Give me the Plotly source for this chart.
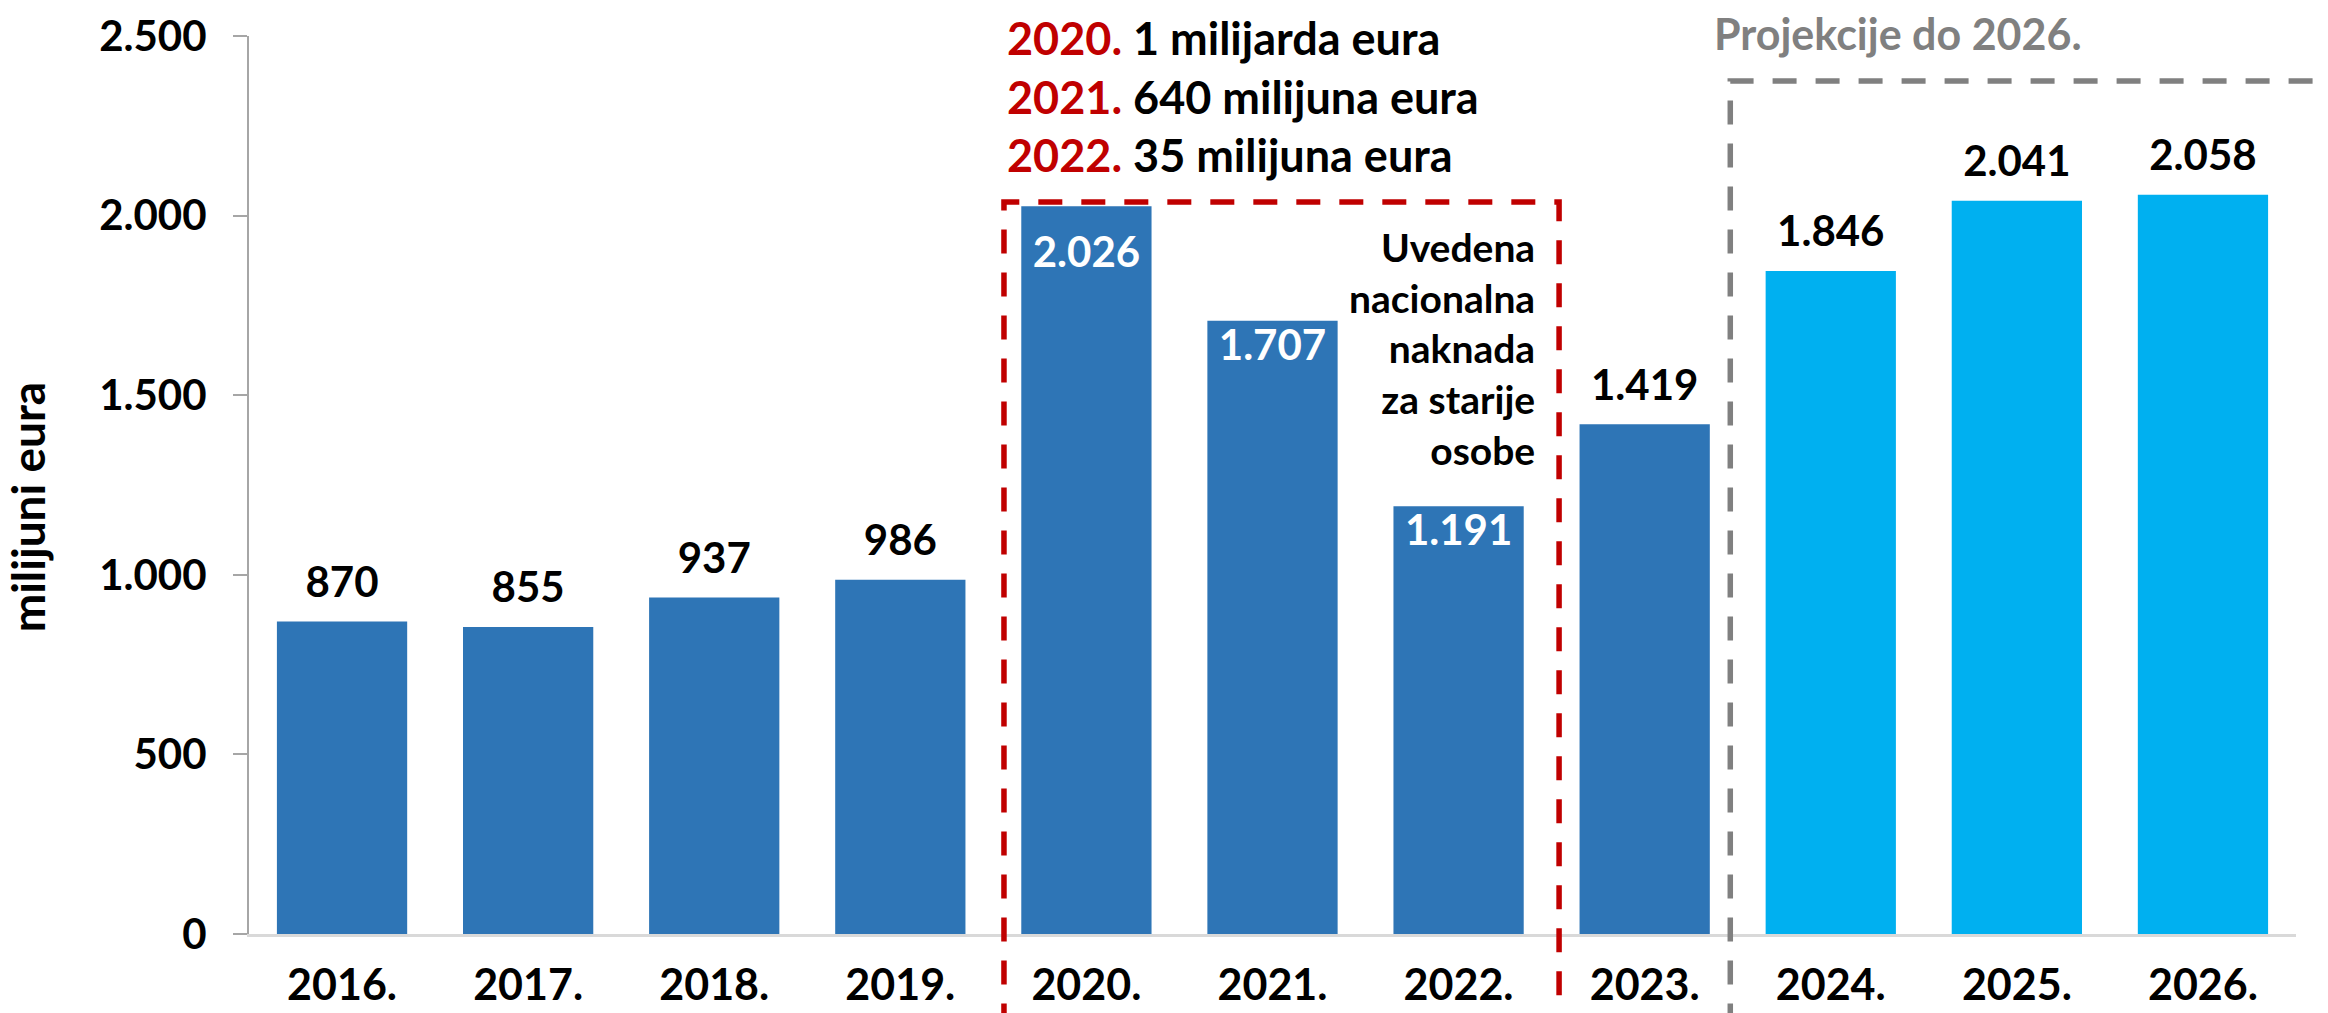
import plotly.graph_objects as go

# ---- data ----
years = ["2016.", "2017.", "2018.", "2019.", "2020.", "2021.", "2022.",
         "2023.", "2024.", "2025.", "2026."]
values = [870, 855, 937, 986, 2026, 1707, 1191, 1419, 1846, 2041, 2058]
projection = [False] * 8 + [True] * 3
label_inside = [False, False, False, False, True, True, True,
                False, False, False, False]
y_ticks = [0, 500, 1000, 1500, 2000, 2500]

note_years = ["2020.", "2021.", "2022."]
note_texts = ["1 milijarda eura", "640 milijuna eura", "35 milijuna eura"]
box_text = ["Uvedena", "nacionalna", "naknada", "za starije", "osobe"]
proj_title = "Projekcije do 2026."
y_title = "milijuni eura"

# ---- style ----
FONT = "Lato"
DARK = "#2E75B6"
LIGHT = "#00B0F0"
RED = "#C00000"
GRAY = "#808080"
n = len(years)
YMAX = 2500
# label padding (invisible marker size) per bar
label_pad = [21, 21, 21, 21, 45, 10, 10, 21, 21, 21, 21]


def xp(pos):
    """category position -> paper x"""
    return (pos + 0.5) / n


fig = go.Figure()
fig.add_trace(go.Bar(
    x=years, y=values,
    marker=dict(color=[LIGHT if p else DARK for p in projection], line=dict(width=0)),
    hoverinfo="x+y",
))

# value labels (text attached to invisible markers at the bar tops)
fig.add_trace(go.Scatter(
    x=years, y=values, mode="markers+text",
    marker=dict(size=label_pad, opacity=0),
    texttemplate="%{y:,d}",
    textposition=["bottom center" if i else "top center" for i in label_inside],
    textfont=dict(family=FONT, size=42, weight="bold",
                  color=["white" if i else "black" for i in label_inside]),
    hoverinfo="skip", cliponaxis=False,
))

# red dashed box (2020-2022)
fig.add_shape(type="path", xref="paper", yref="paper",
              path=f"M {xp(3.557)} -0.2 L {xp(3.557)} {2038/YMAX} L {xp(6.54)} {2038/YMAX} L {xp(6.54)} -0.2",
              line=dict(color=RED, width=5.5, dash="24px,19px"))
# gray dashed box (projections)
fig.add_shape(type="path", xref="paper", yref="paper",
              path=f"M {xp(7.46)} -0.2 L {xp(7.46)} {2375/YMAX} L 1.2 {2375/YMAX}",
              line=dict(color=GRAY, width=5.5, dash="24px,19px"))

# red note text
note = "<br>".join(f"<span style='color:{RED}'>{y}</span> {t}" for y, t in zip(note_years, note_texts))
fig.add_annotation(x=xp(3.56), y=1.03, xref="paper", yref="paper", text=note,
                   showarrow=False, xanchor="left", yanchor="top", align="left",
                   font=dict(family=FONT, size=45, color="black", weight="bold"))

fig.add_annotation(x=xp(6.42), y=(934 - 222) / 898, xref="paper", yref="paper",
                   text="<br>".join(box_text),
                   showarrow=False, xanchor="right", yanchor="top", align="right",
                   font=dict(family=FONT, size=39, color="black", weight="bold"))

fig.add_annotation(x=xp(7.36), y=1.003, xref="paper", yref="paper", text=proj_title,
                   showarrow=False, xanchor="left", yanchor="middle",
                   font=dict(family=FONT, size=43, color=GRAY, weight="bold"))

fig.add_annotation(x=-0.108, y=0.475, xref="paper", yref="paper", text=y_title,
                   showarrow=False, textangle=-90, xanchor="center", yanchor="middle",
                   font=dict(family=FONT, size=46, color="black", weight="bold"))

fig.update_layout(
    width=2328, height=1013,
    margin=dict(l=249, r=32, t=36, b=79),
    paper_bgcolor="white", plot_bgcolor="white",
    separators=",.",
    bargap=0.3,
    showlegend=False,
    font=dict(family=FONT, color="black"),
    xaxis=dict(
        type="category", range=[-0.5, n - 0.5], automargin=False,
        showline=True, linecolor="#D9D9D9", linewidth=3,
        ticks="", showgrid=False, zeroline=False,
        tickfont=dict(family=FONT, size=43, color="black", weight="bold"),
        ticklabelstandoff=11,
    ),
    yaxis=dict(
        range=[0, YMAX], tickvals=y_ticks, tickformat=",d", automargin=False,
        showline=True, linecolor="#A6A6A6", linewidth=2,
        ticks="outside", ticklen=14, tickcolor="#A6A6A6", tickwidth=2,
        showgrid=False, zeroline=False,
        tickfont=dict(family=FONT, size=42, color="black", weight="bold"),
        ticklabelstandoff=18,
    ),
)

fig.write_html("out.html", config={"displayModeBar": False},
               post_script="document.body.style.margin='0';document.body.style.overflow='hidden';")
